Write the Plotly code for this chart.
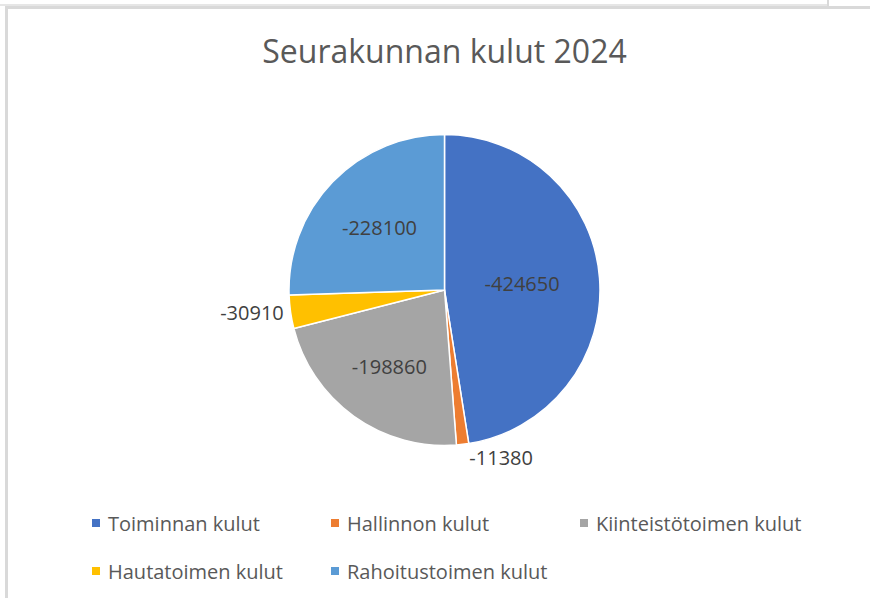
import plotly.graph_objects as go

categories = ["Toiminnan kulut", "Hallinnon kulut", "Kiinteistötoimen kulut",
              "Hautatoimen kulut", "Rahoitustoimen kulut"]
values = [-424650, -11380, -198860, -30910, -228100]
colors = ["#4472C4", "#ED7D31", "#A5A5A5", "#FFC000", "#5B9BD5"]
label_pos = ["inside", "outside", "inside", "outside", "inside"]

W, H = 870, 598
cx, cy, r = 444.5, 290, 155.5

FONT = "Open Sans"

fig = go.Figure(go.Pie(
    labels=categories,
    values=[abs(v) for v in values],
    text=[str(v) for v in values],
    textinfo="text",
    textposition=label_pos,
    insidetextorientation="horizontal",
    sort=False,
    direction="clockwise",
    rotation=0,
    marker=dict(colors=colors, line=dict(color="white", width=1.5)),
    textfont=dict(family=FONT, size=20, color="#404040"),
    insidetextfont=dict(family=FONT, size=20, color="#404040"),
    outsidetextfont=dict(family=FONT, size=20, color="#404040"),
    domain=dict(x=[(cx - r) / W, (cx + r) / W], y=[1 - (cy + r) / H, 1 - (cy - r) / H]),
    automargin=False,
    showlegend=False,
    hoverinfo="label+text",
))

# Legend drawn with shapes/annotations (Excel-like two-row layout)
leg_x = [96, 335, 584, 96, 335]
leg_y = [523, 523, 523, 571, 571]
shapes = []
annotations = []
for name, col, lx, ly in zip(categories, colors, leg_x, leg_y):
    shapes.append(dict(type="rect", xref="paper", yref="paper",
                       x0=(lx - 4) / W, x1=(lx + 4) / W,
                       y0=1 - (ly + 4) / H, y1=1 - (ly - 4) / H,
                       fillcolor=col, line=dict(width=0)))
    annotations.append(dict(text=name, xref="paper", yref="paper",
                            x=(lx + 10) / W, y=1 - ly / H, xanchor="left", yanchor="middle",
                            showarrow=False,
                            font=dict(family=FONT, size=20, color="#595959")))

# window frame lines of the screenshot
shapes += [
    dict(type="rect", xref="paper", yref="paper", x0=5 / W, x1=8 / W, y0=0, y1=1 - 5 / H,
         fillcolor="#D9D9D9", line=dict(width=0)),
    dict(type="rect", xref="paper", yref="paper", x0=5 / W, x1=1, y0=1 - 9 / H, y1=1 - 6 / H,
         fillcolor="#D9D9D9", line=dict(width=0)),
    dict(type="rect", xref="paper", yref="paper", x0=827 / W, x1=829 / W, y0=1 - 7 / H, y1=1,
         fillcolor="#D9D9D9", line=dict(width=0)),
    dict(type="rect", xref="paper", yref="paper", x0=0, x1=827 / W, y0=1 - 6 / H, y1=1 - 4 / H,
         fillcolor="#E6E6E6", line=dict(width=0)),
]

fig.update_layout(
    width=W, height=H,
    margin=dict(l=0, r=0, t=0, b=0),
    paper_bgcolor="white",
    showlegend=False,
    title=dict(text="Seurakunnan kulut 2024", x=444.5 / W, xanchor="center",
               y=1 - 52 / H, yanchor="middle",
               font=dict(family=FONT, size=32, color="#595959")),
    shapes=shapes,
    annotations=annotations,
)

fig.write_html("out.html", config={"displayModeBar": False},
               post_script="document.body.style.margin='0';")
